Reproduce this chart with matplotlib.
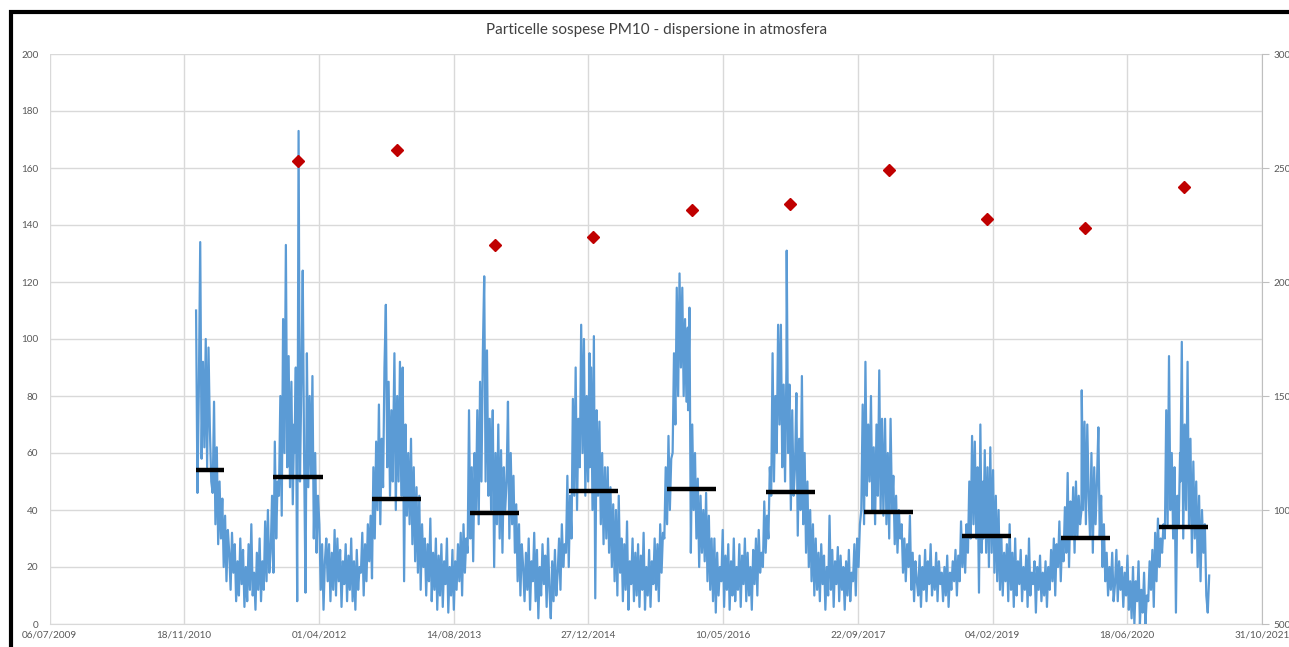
import numpy as np
import pandas as pd
import matplotlib
matplotlib.use('Agg')
import matplotlib.pyplot as plt
import matplotlib.dates as mdates
from matplotlib.patches import Rectangle

# daily PM10 readings, roughly 6 per month (ug/m3)
pm10_2011 = [110, 46, 82, 134, 58, 92,  62, 100, 55, 97, 68, 50,  46, 78, 35, 62, 28, 50,
             30, 44, 20, 38, 15, 33,  25, 12, 32, 18, 28, 8,  22, 10, 30, 14, 26, 6,
             20, 8, 28, 12, 35, 10,  18, 5, 25, 12, 30, 8,  22, 12, 36, 15, 40, 18,
             25, 45, 18, 64, 30, 50,  45, 80, 38, 107, 60, 133,  55, 94, 48, 85, 42, 70]
pm10_2012 = [60, 90, 8, 173, 50, 85,  124, 58, 11, 95, 48, 80,  52, 87, 30, 60, 25, 45,
             35, 12, 28, 5, 22, 30,  15, 28, 8, 25, 12, 33,  10, 30, 15, 26, 6, 22,
             14, 28, 8, 24, 12, 30,  8, 22, 5, 26, 12, 20,  18, 32, 10, 28, 15, 35,
             22, 38, 16, 55, 30, 64,  40, 77, 35, 65, 48, 90,  112, 55, 85, 45, 75, 50]
pm10_2013 = [60, 95, 40, 80, 50, 92,  45, 90, 15, 70, 38, 60,  35, 65, 28, 55, 22, 48,
             18, 45, 12, 35, 20, 30,  10, 28, 15, 37, 8, 25,  12, 30, 5, 24, 10, 28,
             6, 22, 14, 30, 4, 20,  10, 26, 5, 22, 12, 28,  15, 32, 10, 35, 18, 30,
             25, 75, 30, 55, 22, 60,  40, 75, 35, 85, 50, 95,  122, 50, 96, 45, 72, 40]
pm10_2014 = [55, 75, 20, 60, 35, 70,  30, 61, 25, 55, 40, 50,  78, 30, 60, 35, 52, 25,
             42, 15, 35, 10, 28, 20,  8, 25, 12, 30, 5, 22,  15, 32, 8, 26, 2, 20,
             10, 28, 14, 24, 6, 30,  12, 2, 22, 8, 26, 10,  18, 30, 12, 35, 20, 28,
             25, 52, 20, 45, 30, 79,  45, 90, 40, 72, 55, 105,  60, 100, 45, 80, 50, 95]
pm10_2015 = [55, 90, 40, 101, 9, 75,  45, 71, 35, 60, 28, 55,  30, 55, 25, 48, 20, 42,
             15, 40, 10, 45, 18, 30,  8, 28, 12, 36, 5, 22,  14, 30, 8, 25, 10, 28,
             6, 24, 12, 32, 5, 20,  10, 26, 6, 22, 14, 30,  12, 28, 8, 35, 18, 32,
             30, 55, 35, 66, 40, 58,  60, 95, 70, 118, 80, 123,  90, 118, 80, 107, 78, 104]
pm10_2016 = [75, 111, 25, 70, 40, 60,  30, 51, 20, 45, 25, 40,  22, 46, 15, 38, 12, 30,
             8, 30, 4, 25, 10, 20,  15, 33, 6, 24, 12, 28,  5, 22, 10, 30, 8, 20,
             12, 28, 6, 24, 14, 30,  8, 25, 10, 20, 5, 26,  14, 30, 10, 33, 18, 25,
             20, 43, 25, 38, 30, 55,  45, 95, 50, 80, 60, 105,  70, 105, 55, 84, 50, 90]
pm10_2017 = [131, 60, 84, 40, 75, 45,  55, 81, 31, 65, 40, 87,  35, 60, 25, 50, 20, 40,
             15, 35, 10, 30, 12, 25,  8, 28, 14, 24, 5, 20,  10, 38, 12, 26, 6, 22,
             14, 27, 8, 24, 12, 20,  5, 22, 10, 26, 8, 18,  15, 28, 10, 30, 20, 35,
             40, 77, 35, 92, 45, 70,  50, 80, 40, 62, 35, 70,  45, 89, 40, 72, 38, 65]
pm10_2018 = [72, 35, 60, 30, 72, 40,  52, 28, 45, 25, 40, 30,  35, 18, 30, 15, 28, 20,
             38, 12, 25, 8, 22, 15,  10, 24, 6, 20, 12, 26,  8, 22, 14, 28, 10, 20,
             12, 25, 8, 22, 14, 18,  8, 20, 10, 24, 6, 18,  12, 22, 15, 26, 10, 24,
             15, 36, 20, 31, 18, 35,  25, 50, 30, 66, 35, 64,  30, 55, 11, 70, 25, 50]
pm10_2019 = [30, 61, 25, 55, 20, 62,  25, 54, 18, 45, 15, 40,  12, 31, 10, 25, 15, 28,
             8, 35, 12, 25, 6, 30,  10, 22, 14, 26, 8, 20,  12, 24, 6, 30, 10, 18,
             14, 22, 4, 20, 12, 24,  8, 18, 10, 22, 6, 20,  12, 26, 15, 30, 10, 28,
             20, 36, 15, 30, 22, 41,  25, 53, 20, 43, 30, 48,  25, 50, 30, 45, 35, 40]
pm10_2020 = [82, 40, 71, 35, 70, 45,  30, 60, 25, 55, 35, 50,  69, 30, 45, 20, 35, 15,
             25, 10, 20, 12, 25, 8,  14, 26, 8, 22, 12, 20,  6, 18, 10, 24, 5, 15,
             2, 20, 0, 15, 8, 22,  0, 12, 4, 18, 0, 10,  8, 22, 12, 26, 6, 32,
             15, 37, 20, 30, 25, 35,  30, 75, 35, 94, 40, 60,  30, 55, 4, 45, 35, 60]
pm10_2021 = [50, 99, 30, 70, 40, 92,  35, 65, 25, 57, 30, 50,  20, 45, 15, 40, 25, 35,
             10, 4, 17]
last_day = '2021-04-18'

# winter (15 Oct - 15 Apr) means, black bars
winter_years = [2011, 2012, 2013, 2014, 2015, 2016, 2017, 2018, 2019, 2020, 2021]
winter_mean = [54.0, 51.5, 43.7, 39.1, 46.7, 47.5, 46.2, 39.4, 31.0, 30.1, 34.0]

# red diamonds, secondary axis
diamond_years = [2012, 2013, 2014, 2015, 2016, 2017, 2018, 2019, 2020, 2021]
diamond_vals = [2532, 2579, 2162, 2199, 2316, 2341, 2491, 2276, 2239, 2418]

x_ticks = pd.date_range('2009-07-06', periods=10, freq='500D')

yearly = [pm10_2011, pm10_2012, pm10_2013, pm10_2014, pm10_2015, pm10_2016,
          pm10_2017, pm10_2018, pm10_2019, pm10_2020, pm10_2021]

dates = []
vals = []
for i, lst in enumerate(yearly):
    yr = 2011 + i
    start = pd.Timestamp(f'{yr}-01-01')
    end = pd.Timestamp(last_day) if yr == 2021 else pd.Timestamp(f'{yr}-12-31')
    span = (end - start).days
    offs = np.linspace(0, span, len(lst))
    dates += [start + pd.Timedelta(days=float(o)) for o in offs]
    vals += lst

plt.rcParams['font.family'] = ['Lato', 'DejaVu Sans']
fig = plt.figure(figsize=(12.89, 6.47), dpi=100)
ax = fig.add_axes([49.5/1289, 23/647, (1262-49.5)/1289, 570/647])

grid_c = '#D9D9D9'
ax.plot(dates, vals, color='#5B9BD5', lw=1.6, zorder=3)

first = pd.Timestamp('2011-01-01')
for yr, m in zip(winter_years, winter_mean):
    s = max(pd.Timestamp(f'{yr-1}-10-15'), first)
    e = pd.Timestamp(f'{yr}-04-15')
    ax.hlines(m, s, e, color='black', lw=3.2, zorder=4)

ax.set_ylim(0, 200)
ax.set_yticks(range(0, 201, 20))
ax.set_xlim(pd.Timestamp('2009-07-06'), pd.Timestamp('2021-10-31'))
ax.set_xticks(x_ticks)
ax.xaxis.set_major_formatter(mdates.DateFormatter('%d/%m/%Y'))
ax.grid(True, color=grid_c, lw=1)
ax.set_axisbelow(True)
for sp in ['top', 'right', 'left']:
    ax.spines[sp].set_visible(False)
ax.spines['bottom'].set_color(grid_c)
ax.tick_params(axis='both', length=0, labelsize=7.2, colors='#595959')
ax.tick_params(axis='y', pad=8)
ax.tick_params(axis='x', pad=5)

ax2 = ax.twinx()
d_dates = [pd.Timestamp(f'{y}-01-14') for y in diamond_years]
ax2.plot(d_dates, diamond_vals, ls='none', marker='D', ms=6.5, color='#C00000', zorder=5)
ax2.set_ylim(500, 3000)
ax2.set_yticks(range(500, 3001, 500))
for sp in ['top', 'left', 'bottom']:
    ax2.spines[sp].set_visible(False)
ax2.spines['right'].set_color('#BFBFBF')
ax2.tick_params(axis='y', length=5, color='#BFBFBF', labelsize=7.2, labelcolor='#595959', pad=3)

fig.text(657/1289, 1 - 30/647, 'Particelle sospese PM10 - dispersione in atmosfera',
         ha='center', va='center', fontsize=11, color='#404040')

# black frame of the screenshot
fig.add_artist(Rectangle((11/1289, -0.2), 2, 1.2 - 12/647, transform=fig.transFigure,
                         fill=False, edgecolor='black', lw=3, clip_on=False))

fig.savefig('out.png', dpi=100)
